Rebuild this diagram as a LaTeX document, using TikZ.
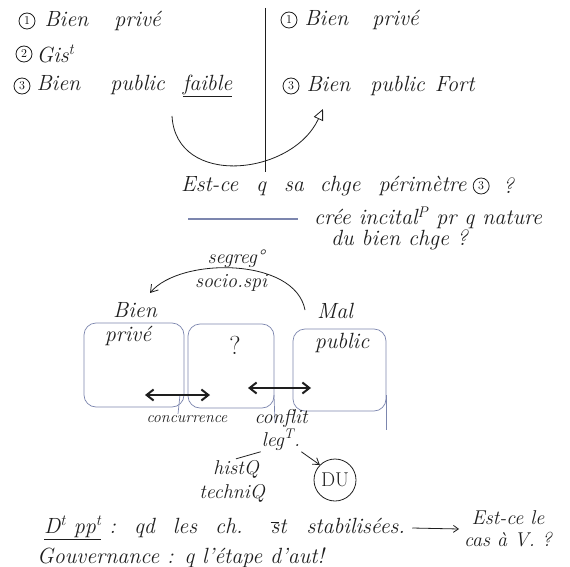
\documentclass[tikz,border=0pt]{standalone}
\usepackage{tikz}
\usetikzlibrary{arrows.meta, positioning, calc}
\definecolor{ink}{HTML}{1E1E1E}
\definecolor{pencil}{HTML}{7C86AE}
\newcommand\handfont{\fontsize{22}{24}\selectfont\itshape\spaceskip 8pt plus 2pt\relax}

\begin{document}
\begin{tikzpicture}[x=1pt, y=-1pt,
    hand/.style={font=\handfont, text=ink, inner sep=1pt},
    handmd/.style={font=\fontsize{20}{22}\selectfont\itshape, text=ink, inner sep=1pt},
    handsm/.style={font=\fontsize{16}{17}\selectfont\itshape, text=ink, inner sep=1pt},
    numc/.style={draw=ink, circle, thick, inner sep=0pt, minimum size=16pt, font=\fontsize{12}{12}\selectfont},
    box/.style={draw=pencil, line width=0.7pt, rounded corners=12pt},
    stroke/.style={draw=ink, line width=0.8pt},
    dbl/.style={draw=ink, line width=2pt, {Straight Barb[length=7pt,width=11pt]}-{Straight Barb[length=7pt,width=11pt]}}]
  \useasboundingbox (0,0) rectangle (570,567);

  % deux colonnes du haut
  \node[numc] (c1L) at (27,21) {1};
  \node[hand, right=8pt of c1L] (t1L) {Bien\hspace{26pt}privé};
  \node[numc] (c2L) at (24,54) {2};
  \node[hand, right=3pt of c2L] (t2L) {Gis\textsuperscript{t}};
  \node[numc] (c3L) at (22,86) {3};
  \node[hand, right=5pt of c3L] (t3L) {Bien\hspace{30pt}public\hspace{18pt}\underline{faible}};

  \node[numc] (c1R) at (289,20) {1};
  \node[hand, right=6pt of c1R] (t1R) {Bien\hspace{24pt}privé};
  \node[numc] (c3R) at (291,86) {3};
  \node[hand, right=6pt of c3R] (t3R) {Bien\hspace{20pt}public\hspace{10pt}Fort};

  \coordinate (sepT) at (265,8);
  \coordinate (sepB) at (265,172);
  \draw[stroke] (sepT) -- (sepB);

  \coordinate (faibleS) at (172,116);
  \coordinate (fortE) at (323,109);
  \draw[stroke, -{Triangle[open, length=11pt, width=10pt]}] (faibleS) .. controls (176,188) and (292,176) .. (fortE);

  % question
  \node[hand, anchor=west] (q1) at (180,186) {Est-ce\hspace{18pt}q\hspace{18pt}sa\hspace{16pt}chge\hspace{18pt}périmètre};
  \node[numc, right=5pt of q1] (c3q) {3};
  \node[hand, right=12pt of c3q] (q1b) {?};
  \coordinate (lnA) at (188,219);
  \coordinate (lnB) at (298,219);
  \draw[pencil, line width=1.1pt] (lnA) -- (lnB);
  \node[hand, anchor=west] (q2) at (313,218) {crée incital\textsuperscript{P} pr q nature};
  \node[hand, anchor=west] (q3) at (330,240) {du bien chge ?};

  % schema du bas
  \node[handmd] (seg) at (236,259) {segreg°};
  \node[handmd] (soc) at (231,283) {socio.spi};
  \coordinate (malS) at (305,310);
  \coordinate (bienE) at (150,293);
  \draw[stroke, -{Straight Barb[length=7pt, width=9pt]}] (malS) .. controls (295,257) and (180,257) .. (bienE);

  \node[hand] (bien) at (135,310) {Bien};
  \node[hand] (prive) at (128,336) {privé};
  \node[hand] (mal) at (335,311) {Mal};
  \node[hand] (public) at (342,343) {public};
  \node[hand, font=\fontsize{26}{26}\selectfont] (inter) at (235,345) {?};

  \draw[box] (84,323) rectangle (184,407);
  \draw[box] (188,324) rectangle (274,408);
  \draw[box] (293,329) rectangle (386,411);
  \draw[pencil, line width=0.7pt] (386,395) -- (386,430);
  \draw[pencil, line width=0.7pt] (180,395) -- (178,414);
  \draw[pencil, line width=0.7pt] (274,395) -- (275,423);

  \coordinate (concA) at (145,395);
  \coordinate (concB) at (210,395);
  \draw[dbl] (concA) -- (concB);
  \coordinate (confA) at (248,388);
  \coordinate (confB) at (311,388);
  \draw[dbl] (confA) -- (confB);

  \node[handsm] (conc) at (187,419) {concurrence};
  \node[handmd] (confl) at (281,418) {conflit};
  \node[handmd, below=0pt of confl] (legt) {leg\textsuperscript{T}.};
  \node[handmd] (hist) at (236,469) {histQ};
  \node[handmd] (techn) at (232,493) {techniQ};
  \node[draw=ink, circle, thick, minimum size=42pt, inner sep=0pt, font=\fontsize{20}{20}\selectfont, text=ink] (du) at (335,480) {DU};
  \draw[stroke] (legt.south west) -- (hist.north);
  \draw[stroke, -{Straight Barb[length=6pt, width=8pt]}] (legt.south east) -- (du.north west);

  % conclusion
  \node[hand, anchor=west] (dpp) at (43,528) {\underline{D\textsuperscript{t} pp\textsuperscript{t}}\hspace{8pt}:\hspace{18pt}qd\hspace{18pt}les\hspace{18pt}ch.\hspace{28pt}\ensuremath{\overline{\mbox{s}}}t\hspace{20pt}stabilisées.};
  \node[handmd, align=center] (quest) at (508,529) {Est-ce le\\cas à V. ?};
  \draw[stroke, -{Straight Barb[length=5pt, width=7pt]}] ([xshift=6pt]dpp.east) -- ([xshift=-4pt]quest.west);
  \node[hand, anchor=west] (gouv) at (36,558) {Gouvernance : q l'étape d'aut!};
\end{tikzpicture}
\end{document}
